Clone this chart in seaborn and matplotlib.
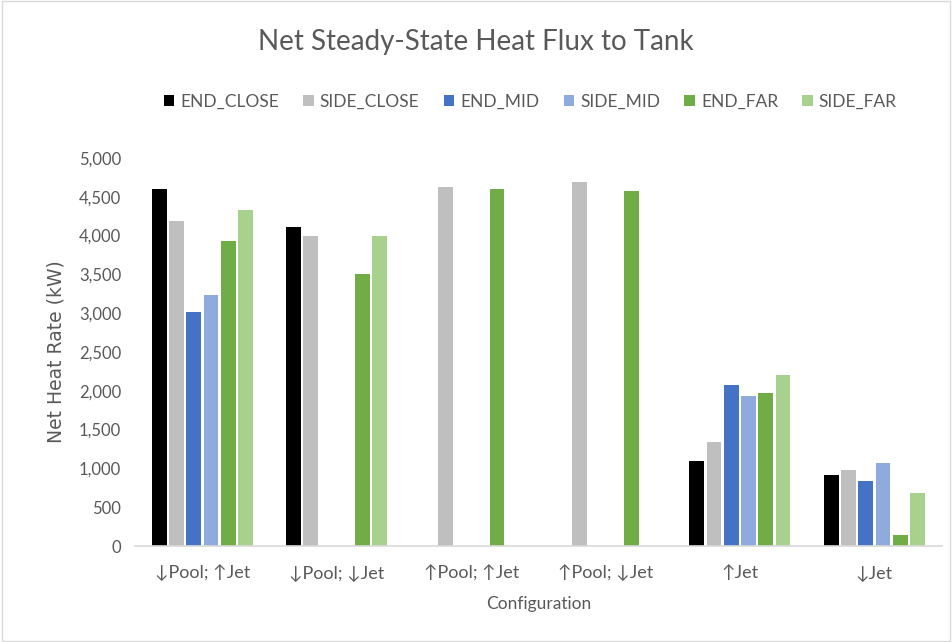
import numpy as np
import pandas as pd
import matplotlib
matplotlib.use("Agg")
import matplotlib.pyplot as plt
from matplotlib.ticker import FuncFormatter
from matplotlib.patches import Rectangle
import seaborn as sns

configurations = ["↓Pool; ↑Jet", "↓Pool; ↓Jet", "↑Pool; ↑Jet", "↑Pool; ↓Jet", "↑Jet", "↓Jet"]
series_names = ["END_CLOSE", "SIDE_CLOSE", "END_MID", "SIDE_MID", "END_FAR", "SIDE_FAR"]

end_close = [4600, 4110, np.nan, np.nan, 1100, 910]
side_close = [4185, 3990, 4630, 4685, 1335, 980]
end_mid = [3010, np.nan, np.nan, np.nan, 2075, 840]
side_mid = [3240, np.nan, np.nan, np.nan, 1935, 1075]
end_far = [3930, 3500, 4600, 4575, 1975, 140]
side_far = [4335, 4000, np.nan, np.nan, 2200, 685]

series_colors = ["#000000", "#BFBFBF", "#4472C4", "#8FAADC", "#70AD47", "#A9D18E"]

rows = []
for name, vals in zip(series_names,
                      [end_close, side_close, end_mid, side_mid, end_far, side_far]):
    for cfg, v in zip(configurations, vals):
        if not np.isnan(v):
            rows.append({"Configuration": cfg, "Series": name, "Value": v})
df = pd.DataFrame(rows)

sns.set_theme(style="white")
plt.rcParams["font.family"] = ["Lato", "DejaVu Sans"]
text_color = "#595959"

fig = plt.figure(figsize=(9.52, 6.42), dpi=100)
ax = fig.add_axes([0.142, 0.1495, 0.847, 0.6045])

sns.barplot(data=df, x="Configuration", y="Value", hue="Series",
            order=configurations, hue_order=series_names,
            palette=series_colors, errorbar=None, width=0.77, gap=0.14,
            linewidth=0, saturation=1, ax=ax)

ax.set_ylim(0, 5000)
ax.set_yticks(np.arange(0, 5001, 500))
ax.yaxis.set_major_formatter(FuncFormatter(lambda v, p: f"{int(v):,}"))
ax.tick_params(axis="both", colors=text_color, length=0)
ax.tick_params(axis="y", labelsize=12, pad=10)
ax.tick_params(axis="x", labelsize=13, pad=14)
for side in ["top", "right", "left"]:
    ax.spines[side].set_visible(False)
ax.spines["bottom"].set_color("#D9D9D9")
ax.spines["bottom"].set_linewidth(1.2)

ax.set_xlabel("Configuration", fontsize=12.5, color=text_color, labelpad=10)
ax.set_ylabel("Net Heat Rate (kW)", fontsize=13.5, color=text_color, labelpad=10,
              family=["DejaVu Sans"])

fig.text(0.5, 0.934, "Net Steady-State Heat Flux to Tank", fontsize=20,
         color=text_color, ha="center", va="center")

handles, labels = ax.get_legend_handles_labels()
ax.legend(handles, labels, loc="center", bbox_to_anchor=(0.557, 0.842),
          bbox_transform=fig.transFigure, ncol=6, frameon=False,
          fontsize=12.5, handlelength=0.6, handleheight=0.6, handletextpad=0.35,
          columnspacing=1.4, labelcolor=text_color)

fig.patches.append(Rectangle((0.002, 0.002), 0.996, 0.996, transform=fig.transFigure,
                             fill=False, edgecolor="#D9D9D9", linewidth=1))

fig.savefig("out.png", dpi=100, facecolor="white")
